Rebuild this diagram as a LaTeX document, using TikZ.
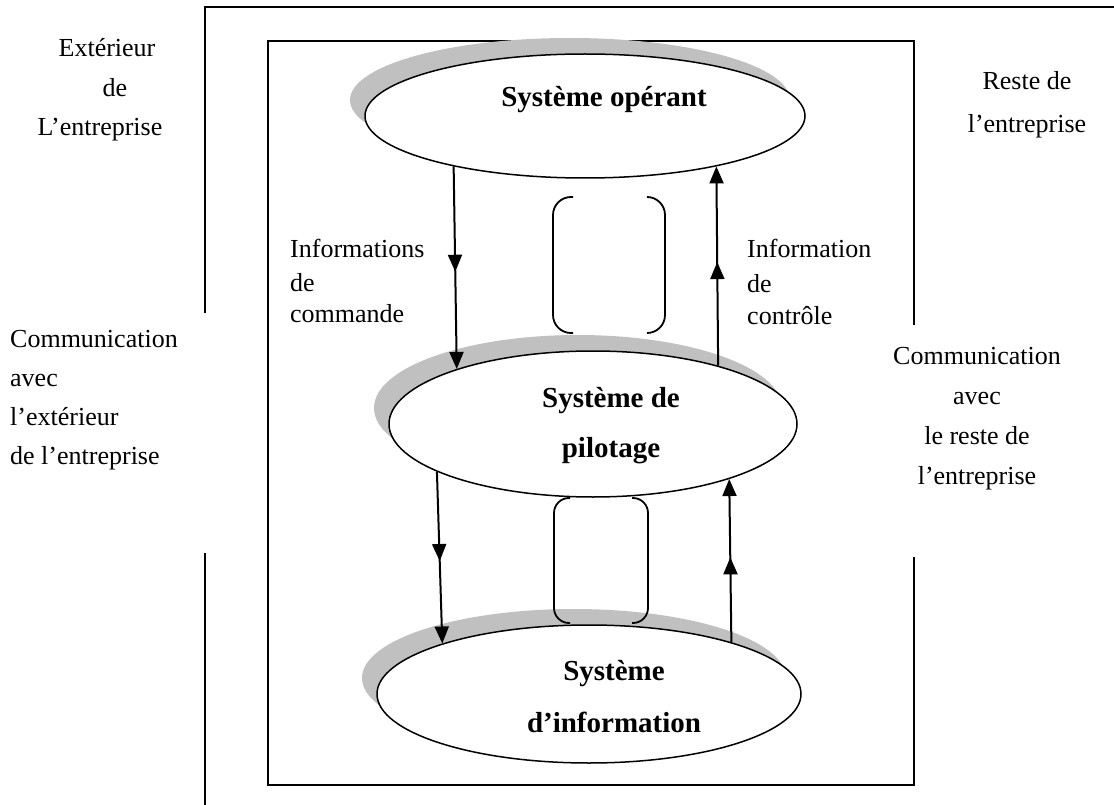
\documentclass[tikz,border=0pt]{standalone}
\usepackage{fontspec}
\setmainfont{Liberation Serif}
\usetikzlibrary{shapes.geometric,arrows.meta,decorations.markings}
\definecolor{shadowgray}{RGB}{192,192,192}
\begin{document}
\begin{tikzpicture}[x=1pt,y=-1pt,
  sys/.style={ellipse, draw, line width=1.5pt, fill=white, inner sep=0pt},
  shad/.style={ellipse, fill=shadowgray, inner sep=0pt},
  lbl/.style={font=\fontsize{26}{31}\selectfont, inner sep=0pt},
  blbl/.style={font=\fontsize{29}{34}\selectfont\bfseries, inner sep=0pt},
  framestyle/.style={line width=2pt},
  flow/.style={line width=2pt,
    decoration={markings, mark=at position 0.52 with {\arrow{Triangle[width=14pt,length=17pt]}}},
    postaction={decorate}, -{Triangle[width=14pt,length=17pt]}},
  brk/.style={line width=1.8pt}]
\useasboundingbox (0,0) rectangle (1114,805);
% frames
\draw[framestyle] (1114,7) -- (205,7) -- (205,313);
\draw[framestyle] (205,553) -- (205,805);
\draw[framestyle] (914,325) -- (914,41) -- (268,41) -- (268,785) -- (914,785) -- (914,557);
% shadows
\node[shad, minimum width=440pt, minimum height=124pt] (opS) at (570,100) {};
\node[shad, minimum width=408pt, minimum height=146pt] (pilS) at (578,408) {};
\node[shad, minimum width=424pt, minimum height=138pt] (infS) at (574,678) {};
% ellipses
\node[sys, minimum width=440pt, minimum height=124pt] (op) at (585,116) {};
\node[sys, minimum width=408pt, minimum height=146pt] (pil) at (593,424) {};
\node[sys, minimum width=424pt, minimum height=138pt] (inf) at (589,694) {};
% texts in ellipses
\node[blbl, anchor=base] (opT) at (604,107) {Système opérant};
\node[blbl, anchor=base] (pilT1) at (611,407) {Système de};
\node[blbl, anchor=base] (pilT2) at (611,457) {pilotage};
\node[blbl, anchor=base] (infT1) at (614,680) {Système};
\node[blbl, anchor=base] (infT2) at (614,732) {d’information};
% arrows
\draw[flow] (op.201) -- (pil.158.6);
\draw[flow] (pil.25.6) -- (op.-21.2);
\draw[flow] (pil.197.5) -- (inf.161.8);
\draw[flow] (inf.20.5) -- (pil.-22.1);
% brackets
\draw[brk, rounded corners=18pt] (573,197) -- (553,197) -- (553,333) -- (573,333);
\draw[brk, rounded corners=18pt] (647,197) -- (665,197) -- (665,333) -- (647,333);
\draw[brk, rounded corners=15pt] (570,498) -- (554,498) -- (554,623) -- (570,623);
\draw[brk, rounded corners=15pt] (632,498) -- (648,498) -- (648,623) -- (632,623);
% outside texts
\node[lbl, anchor=base] (ext1) at (107,57) {Extérieur};
\node[lbl, anchor=base] (ext2) at (115,97) {de};
\node[lbl, anchor=base] (ext3) at (100,136) {L’entreprise};
\node[lbl, anchor=base] (rst1) at (1027,90) {Reste de};
\node[lbl, anchor=base] (rst2) at (1027,133) {l’entreprise};
\node[lbl, anchor=base west] (ce1) at (10,347) {Communication};
\node[lbl, anchor=base west] (ce2) at (10,386) {avec};
\node[lbl, anchor=base west] (ce3) at (10,425) {l’extérieur};
\node[lbl, anchor=base west] (ce4) at (10,464) {de l’entreprise};
\node[lbl, anchor=base] (cr1) at (977,364) {Communication};
\node[lbl, anchor=base] (cr2) at (977,404) {avec};
\node[lbl, anchor=base] (cr3) at (977,444) {le reste de};
\node[lbl, anchor=base] (cr4) at (977,484) {l’entreprise};
\node[lbl, anchor=base west] (ic1) at (290,258) {Informations};
\node[lbl, anchor=base west] (ic2) at (290,291) {de};
\node[lbl, anchor=base west] (ic3) at (290,322) {commande};
\node[lbl, anchor=base west] (it1) at (747,258) {Information};
\node[lbl, anchor=base west] (it2) at (747,292) {de};
\node[lbl, anchor=base west] (it3) at (747,324) {contrôle};
\end{tikzpicture}
\end{document}
